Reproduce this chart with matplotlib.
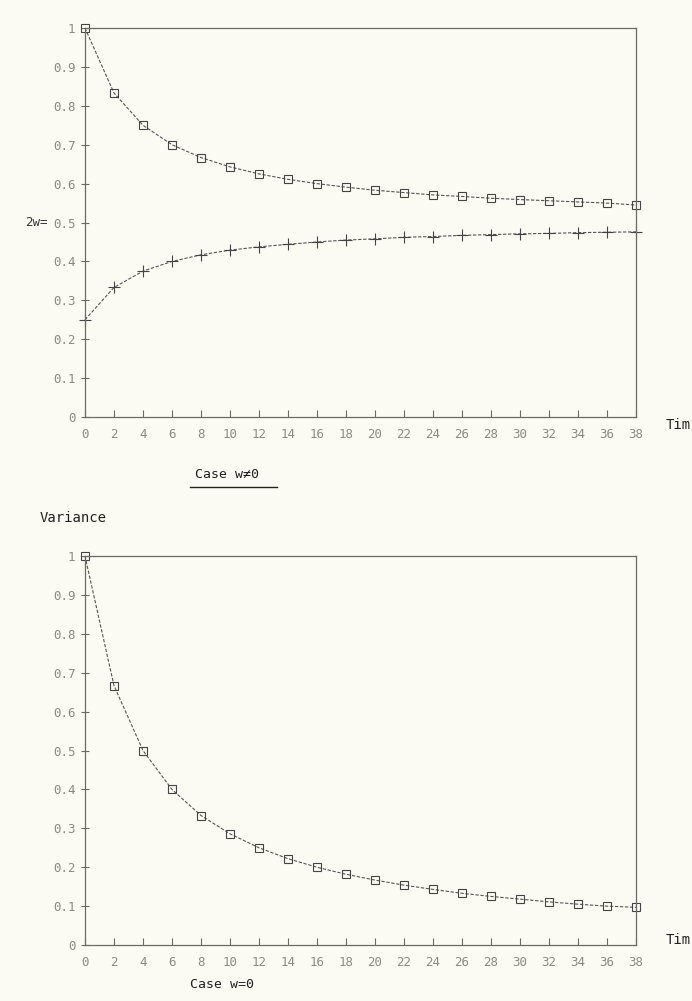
import numpy as np
import matplotlib
matplotlib.use("Agg")
import matplotlib.pyplot as plt

# ── data ─────────────────────────────────────────────────────────────────
t = [0, 2, 4, 6, 8, 10, 12, 14, 16, 18, 20, 22, 24, 26, 28, 30, 32, 34, 36, 38]
upper_w = [1.0, 0.833, 0.75, 0.70, 0.667, 0.643, 0.625, 0.611, 0.60, 0.591,
           0.583, 0.577, 0.571, 0.567, 0.5625, 0.559, 0.556, 0.553, 0.55, 0.545]
lower_w = [0.25, 0.333, 0.375, 0.40, 0.417, 0.429, 0.4375, 0.444, 0.45, 0.455,
           0.458, 0.462, 0.464, 0.467, 0.469, 0.471, 0.472, 0.474, 0.475, 0.476]
var_w0 = [1.0, 0.667, 0.50, 0.40, 0.333, 0.286, 0.25, 0.222, 0.20, 0.182,
          0.167, 0.154, 0.143, 0.133, 0.125, 0.118, 0.111, 0.105, 0.10, 0.097]
yticks = [0, 0.1, 0.2, 0.3, 0.4, 0.5, 0.6, 0.7, 0.8, 0.9, 1]
ytick_labels = ["0", "0.1", "0.2", "0.3", "0.4", "0.5", "0.6", "0.7", "0.8", "0.9", "1"]

BG = "#fbfbf3"
TICK_COL = "#8a8a86"
LINE_COL = "#555555"
MONO = "DejaVu Sans Mono"
DASH = (0, (3, 1.5))

fig = plt.figure(figsize=(6.92, 10.01), dpi=100, facecolor=BG)


def style_axes(ax):
    ax.set_facecolor(BG)
    ax.set_xlim(0, 38)
    ax.set_ylim(0, 1)
    ax.set_xticks(t)
    ax.set_xticklabels([str(v) for v in t])
    ax.set_yticks(yticks)
    ax.set_yticklabels(ytick_labels)
    for s in ax.spines.values():
        s.set_color("#6a6a66")
        s.set_linewidth(0.9)
    ax.tick_params(axis="x", direction="in", length=5, color="#6a6a66",
                   labelcolor=TICK_COL, labelsize=9, pad=8)
    ax.tick_params(axis="y", direction="inout", length=6, color="#6a6a66",
                   labelcolor=TICK_COL, labelsize=9, pad=4)
    for lab in ax.get_xticklabels() + ax.get_yticklabels():
        lab.set_family(MONO)


# ── top panel: case w != 0 ──────────────────────────────────────────────
ax1 = fig.add_axes([0.1228, 0.5834, 0.7963, 0.3886])
style_axes(ax1)
ax1.plot(t, upper_w, color=LINE_COL, lw=0.8, ls=DASH,
         marker="s", ms=5.5, mfc="none", mec="#444444", mew=0.8, clip_on=False)
ax1.plot(t, lower_w, color=LINE_COL, lw=0.8, ls=DASH,
         marker="+", ms=8, mec="#444444", mew=0.8, clip_on=False)
fig.text(25 / 692, 1 - 222 / 1001, "2w=", fontsize=9, family=MONO,
         color="#333333", va="center")
fig.text(666 / 692, 1 - 425 / 1001, "Tim", fontsize=10, family=MONO,
         color="#222222", va="center")
fig.text(195 / 692, 1 - 475 / 1001, "Case w\u22600", fontsize=9.5, family=MONO,
         color="#222222", va="center")
fig.add_artist(plt.Line2D([190 / 692, 277 / 692], [1 - 487 / 1001] * 2,
                          color="#222222", lw=1.0))

fig.text(40 / 692, 1 - 518 / 1001, "Variance", fontsize=10, family=MONO,
         color="#222222", va="center")

# ── bottom panel: case w = 0 ────────────────────────────────────────────
ax2 = fig.add_axes([0.1228, 0.0559, 0.7963, 0.3886])
style_axes(ax2)
ax2.plot(t, var_w0, color=LINE_COL, lw=0.8, ls=DASH,
         marker="s", ms=5.5, mfc="none", mec="#444444", mew=0.8, clip_on=False)
fig.text(666 / 692, 1 - 940 / 1001, "Tim", fontsize=10, family=MONO,
         color="#222222", va="center")
fig.text(190 / 692, 1 - 985 / 1001, "Case w=0", fontsize=9.5, family=MONO,
         color="#222222", va="center")

fig.savefig("out.png", dpi=100, facecolor=BG)
